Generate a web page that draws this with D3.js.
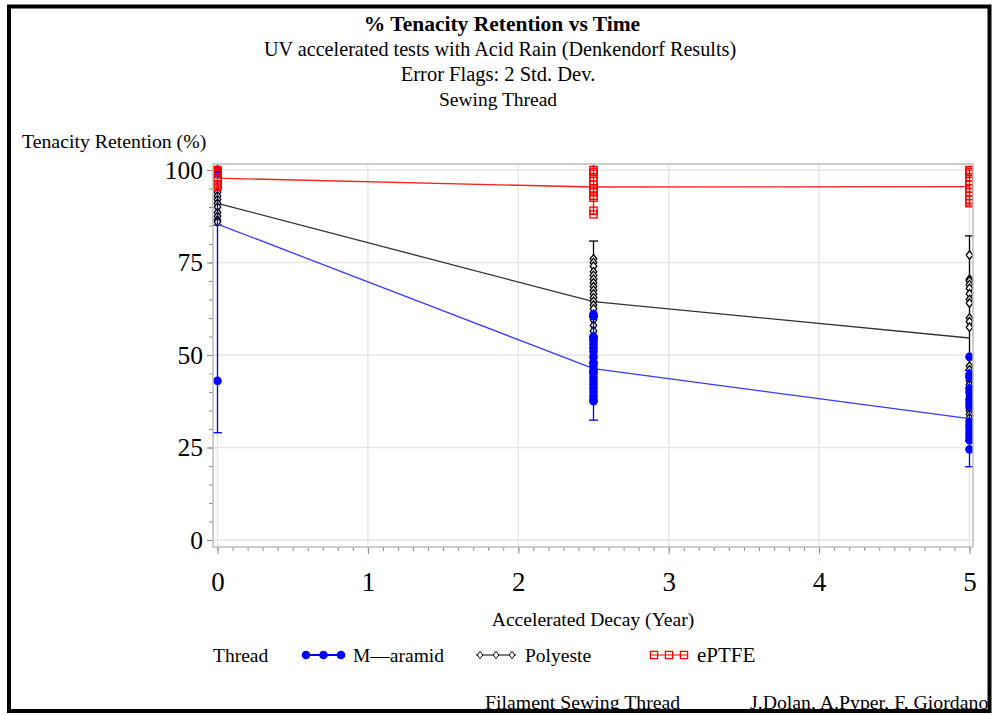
<!DOCTYPE html>
<html>
<head>
<meta charset="utf-8">
<script src="https://cdn.jsdelivr.net/npm/d3@7"></script>
<style>
  body { margin: 0; background: #fff; }
  svg { display: block; }
  svg text { font-family: "Liberation Serif", "DejaVu Serif", serif; }
</style>
</head>
<body>
<div class="chart"></div>
<script>
// values
const times = [0, 2.5, 5]
const seriesNames = ["M\u2014aramid", "Polyeste", "ePTFE"]

const aramidMean = [85.4, 46.3, 32.8]
const aramidLow = [29, 32.4, 19.8]
const aramidHigh = [141.8, 60.2, 45.8]
const aramidObs = [
  [100, 99.5, 99, 43],
  [61, 60.5, 55, 54.5, 54, 53, 52, 51, 49.5, 48, 47, 46, 45.5, 45, 44, 43, 42, 41, 40, 39, 38, 37.5],
  [49.5, 44.5, 44, 41, 40, 38, 37, 36, 32, 31, 30, 29, 28, 27, 24.5]
]

const polyMean = [91, 64.4, 54.6]
const polyLow = [85.1, 47.8, 26.8]
const polyHigh = [96.9, 80.8, 82.2]
const polyObs = [
  [94, 93, 92, 91, 90, 88.5, 87.5, 86.5, 86],
  [76, 75, 74, 72.5, 71.5, 70.5, 69.5, 68.5, 67.5, 66.5, 65.5, 64.5, 63.5, 62.5, 61, 59.5, 58, 56.5, 55, 54, 53, 52, 51, 50, 49],
  [77, 70.5, 70, 69, 68, 66.5, 65, 64, 60, 59, 57.5, 47, 46, 45, 43, 42, 39, 35, 34, 33]
]

const ptfeMean = [97.8, 95.4, 95.5]
const ptfeLow = [95.5, 88, 90.5]
const ptfeHigh = [100.1, 102.8, 100.5]
const ptfeObs = [
  [100, 99.5, 99, 98, 97, 96, 95.5],
  [100, 99.5, 99, 98, 97, 96, 95, 94, 93, 92.5, 89, 88],
  [100, 99.5, 99, 98, 97, 96, 95, 94, 93, 92, 91]
]

const yTicks = [0, 25, 50, 75, 100]
const xTicks = [0, 1, 2, 3, 4, 5]

const W = 997, H = 715
const frame = {left: 213, right: 973, top: 164, bottom: 547}
const FONT = "Liberation Serif, DejaVu Serif, serif"

const x = d3.scaleLinear().domain([0, 5]).range([217.5, 969.5])
const y = d3.scaleLinear().domain([0, 100]).range([540, 170])

const series = [
  {name: seriesNames[0], mean: aramidMean, low: aramidLow, high: aramidHigh, obs: aramidObs, color: "#0000ff", line: "#3a3aff", marker: "circle"},
  {name: seriesNames[1], mean: polyMean, low: polyLow, high: polyHigh, obs: polyObs, color: "#000", line: "#333", marker: "diamond"},
  {name: seriesNames[2], mean: ptfeMean, low: ptfeLow, high: ptfeHigh, obs: ptfeObs, color: "#ff0000", line: "#ff2020", marker: "square"}
]
// polyester underneath, then aramid, then ePTFE on top
const drawOrder = [1, 0, 2]

const svg = d3.select(".chart").append("svg").attr("width", W).attr("height", H)
  .attr("font-family", FONT)

function label(px, py, txt, size, anchor){
  return svg.append("text").attr("x", px).attr("y", py)
    .attr("font-family", FONT).attr("font-size", size)
    .attr("text-anchor", anchor || "start").text(txt)
}

// titles
label(502, 31, "% Tenacity Retention vs Time", 21.5, "middle").attr("font-weight", "bold")
label(500, 56, "UV accelerated tests with Acid Rain (Denkendorf Results)", 20.2, "middle")
label(498, 81, "Error Flags: 2 Std. Dev.", 20.5, "middle")
label(498, 106, "Sewing Thread", 19.5, "middle")
label(22, 148, "Tenacity Retention (%)", 19.8)

// grid
const grid = svg.append("g").attr("stroke", "#e6e6e6").attr("stroke-width", 1.5)
grid.selectAll("line.gy").data(yTicks).enter().append("line")
  .attr("x1", frame.left).attr("x2", frame.right)
  .attr("y1", d => y(d)).attr("y2", d => y(d))
grid.selectAll("line.gx").data(xTicks).enter().append("line")
  .attr("y1", frame.top).attr("y2", frame.bottom)
  .attr("x1", d => x(d)).attr("x2", d => x(d))

// axes
function styleAxis(g){
  g.attr("font-family", FONT)
  g.select(".domain").remove()
  g.selectAll(".tick line").attr("stroke", "#8c8c8c")
  g.selectAll(".tick text").attr("fill", "#000")
}
svg.append("g").attr("transform", `translate(${frame.left},0)`)
  .call(d3.axisLeft(y).tickValues(d3.range(0, 101, 5)).tickSize(4).tickFormat(""))
  .call(styleAxis)
svg.append("g").attr("transform", `translate(${frame.left},0)`)
  .call(d3.axisLeft(y).tickValues(yTicks).tickSize(6).tickPadding(4).tickFormat(d3.format("d")))
  .call(styleAxis)
  .attr("font-size", 25.5)
svg.append("g").attr("transform", `translate(0,${frame.bottom})`)
  .call(d3.axisBottom(x).tickValues(d3.range(0, 51).map(d => d / 10)).tickSize(4).tickFormat(""))
  .call(styleAxis)
svg.append("g").attr("transform", `translate(0,${frame.bottom})`)
  .call(d3.axisBottom(x).tickValues(xTicks).tickSize(7).tickPadding(18).tickFormat(d3.format("d")))
  .call(styleAxis)
  .attr("font-size", 27)

label(593, 626, "Accelerated Decay (Year)", 19.6, "middle")

// plot content, clipped to the frame
svg.append("clipPath").attr("id", "plotclip").append("rect")
  .attr("x", frame.left).attr("y", frame.top)
  .attr("width", frame.right - frame.left).attr("height", frame.bottom - frame.top)
const plot = svg.append("g").attr("clip-path", "url(#plotclip)")

function drawMarker(g, kind, color){
  if(kind === "circle"){
    g.append("circle").attr("r", 4.3).attr("fill", color)
  }else if(kind === "diamond"){
    g.append("path").attr("d", "M0,-4.3L3.3,0L0,4.3L-3.3,0Z")
      .attr("fill", "#fff").attr("stroke", color).attr("stroke-width", 1.3)
  }else{
    g.append("rect").attr("x", -3.6).attr("y", -3.6).attr("width", 7.2).attr("height", 7.2)
      .attr("fill", "none").attr("stroke", color).attr("stroke-width", 1.3)
  }
}

const line = d3.line().x((d, i) => x(times[i])).y(d => y(d))

drawOrder.map(k => series[k]).forEach(s => {
  const g = plot.append("g")
  // error flags
  times.forEach((t, i) => {
    const eb = g.append("g").attr("stroke", s.color).attr("stroke-width", 1.3)
    eb.append("line").attr("x1", x(t)).attr("x2", x(t)).attr("y1", y(s.low[i])).attr("y2", y(s.high[i]))
    ;[s.low[i], s.high[i]].forEach(v => {
      eb.append("line").attr("x1", x(t) - 4.5).attr("x2", x(t) + 4.5).attr("y1", y(v)).attr("y2", y(v))
    })
  })
  g.append("path").datum(s.mean).attr("d", line)
    .attr("fill", "none").attr("stroke", s.line).attr("stroke-width", 1.3)
  times.forEach((t, i) => {
    s.obs[i].forEach(v => {
      const m = g.append("g").attr("transform", `translate(${x(t)},${y(v)})`)
      drawMarker(m, s.marker, s.color)
    })
  })
})

// frame
svg.append("rect").attr("x", frame.left).attr("y", frame.top)
  .attr("width", frame.right - frame.left).attr("height", frame.bottom - frame.top)
  .attr("fill", "none").attr("stroke", "#bdbdbd").attr("stroke-width", 1.5)

// legend
const legY = 655
label(213, legY + 7, "Thread", 19.5)
const legend = [
  {x0: 302, x1: 345, tx: 353},
  {x0: 476, x1: 516, tx: 525},
  {x0: 650, x1: 688, tx: 697}
]
series.forEach((s, i) => {
  const L = legend[i]
  const g = svg.append("g")
  g.append("line").attr("x1", L.x0).attr("x2", L.x1).attr("y1", legY).attr("y2", legY)
    .attr("stroke", s.color).attr("stroke-width", s.marker === "circle" ? 2 : 1.2)
  ;[0, 0.5, 1].forEach(f => {
    const m = g.append("g").attr("transform", `translate(${L.x0 + 4 + f * (L.x1 - L.x0 - 8)},${legY})`)
    if(s.marker === "diamond"){
      m.append("path").attr("d", "M0,-3.6L2.8,0L0,3.6L-2.8,0Z")
        .attr("fill", "#fff").attr("stroke", s.color).attr("stroke-width", 1)
    }else{
      drawMarker(m, s.marker, s.color)
    }
  })
  label(L.tx, legY + 7, s.name, i === 2 ? 21 : 19.5)
})

// footnotes
label(485, 709, "Filament Sewing Thread", 19.8)
label(750, 709, "J.Dolan, A.Pyper, F. Giordano", 19.8)

// outer border
svg.append("rect").attr("x", 9).attr("y", 6.5).attr("width", 980.5).attr("height", 704.5)
  .attr("fill", "none").attr("stroke", "#000").attr("stroke-width", 4)
</script>
</body>
</html>
